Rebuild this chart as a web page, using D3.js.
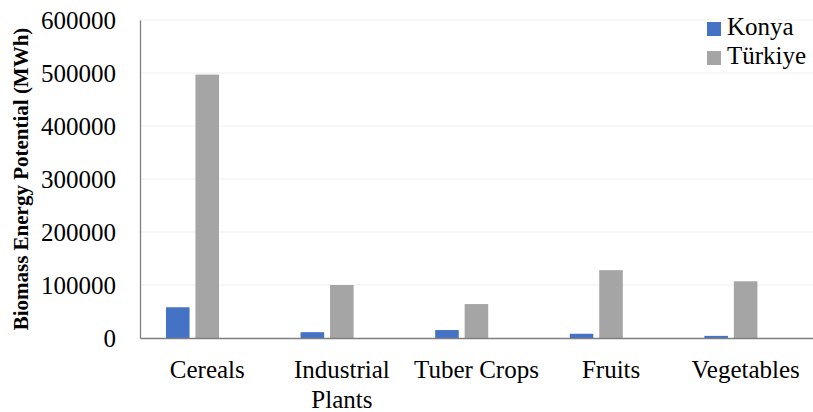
<!DOCTYPE html>
<html>
<head>
<meta charset="utf-8">
<script src="https://cdn.jsdelivr.net/npm/d3@7"></script>
<style>
  html, body { margin: 0; padding: 0; background: #fff; }
  svg { display: block; }
</style>
</head>
<body>
<svg id="chart" width="813" height="412"></svg>
<script>
const categories = ["Cereals", "Industrial\nPlants", "Tuber Crops", "Fruits", "Vegetables"];
const seriesNames = ["Konya", "Türkiye"];
const konya = [58000, 11000, 15000, 8000, 4000];
const turkiye = [497000, 100000, 64000, 128000, 107000];
const yTicks = [0, 100000, 200000, 300000, 400000, 500000, 600000];
const colors = ["#4472C4", "#A5A5A5"];

const svg = d3.select("#chart");
const W = 813, H = 412;
const m = { left: 140, right: 0, top: 20, bottom: 74 };
const plotW = W - m.left - m.right, plotH = H - m.top - m.bottom;
const g = svg.append("g").attr("transform", `translate(${m.left},${m.top})`);
const serif = "'Liberation Serif', 'Times New Roman', serif";

const x0 = d3.scaleBand().domain(categories).range([0, plotW]).padding(0);
const bw0 = x0.bandwidth();
const x1 = d3.scaleBand().domain(seriesNames)
  .range([bw0 * 0.193, bw0 * 0.587]).paddingInner(0.2).paddingOuter(0);
const y = d3.scaleLinear().domain([0, 600000]).range([plotH, 0]);

// gridlines
g.append("g").selectAll("line").data(yTicks.filter(t => t > 0)).join("line")
  .attr("x1", 0).attr("x2", plotW)
  .attr("y1", d => y(d)).attr("y2", d => y(d))
  .attr("stroke", "#EFEFEF").attr("stroke-width", 1);

// bars
const data = categories.map((c, i) => ({ cat: c, vals: [konya[i], turkiye[i]] }));
const grp = g.append("g").selectAll("g").data(data).join("g")
  .attr("transform", d => `translate(${x0(d.cat)},0)`);
grp.selectAll("rect").data(d => d.vals.map((v, k) => ({ key: seriesNames[k], v, k })))
  .join("rect")
  .attr("x", d => x1(d.key)).attr("width", x1.bandwidth())
  .attr("y", d => y(d.v)).attr("height", d => plotH - y(d.v))
  .attr("fill", d => colors[d.k]);

// y axis
const yAxis = d3.axisLeft(y).tickValues(yTicks).tickSize(0).tickPadding(24).tickFormat(d3.format("d"));
const ya = g.append("g").call(yAxis).attr("font-family", serif);
ya.select(".domain").attr("stroke", "#7F7F7F").attr("stroke-width", 1.3);
ya.selectAll("text").attr("font-family", serif)
  .attr("font-size", 25).attr("fill", "#000");

// x axis
const xAxis = d3.axisBottom(x0).tickSize(0).tickPadding(0).tickFormat("");
const xa = g.append("g").attr("transform", `translate(0,${plotH})`).call(xAxis).attr("font-family", serif);
xa.select(".domain").attr("stroke", "#7F7F7F").attr("stroke-width", 1.5);
xa.selectAll(".tick").each(function(d) {
  const lines = d.split("\n");
  const t = d3.select(this).append("text")
    .attr("font-family", serif)
    .attr("font-size", 25).attr("fill", "#000").attr("text-anchor", "middle");
  lines.forEach((ln, i) => t.append("tspan").attr("x", 0).attr("y", 40 + i * 30).text(ln));
});

// y title
svg.append("text")
  .attr("transform", `translate(28,${m.top + plotH / 2}) rotate(-90)`)
  .attr("text-anchor", "middle")
  .attr("font-family", serif)
  .attr("font-weight", "bold").attr("font-size", 21).attr("fill", "#000")
  .text("Biomass Energy Potential (MWh)");

// legend
const lg = svg.append("g").attr("transform", "translate(707,22)");
seriesNames.forEach((s, i) => {
  const r = lg.append("g").attr("transform", `translate(0,${i * 29})`);
  r.append("rect").attr("width", 14).attr("height", 14).attr("fill", colors[i]);
  r.append("text").attr("x", 20).attr("y", 13)
    .attr("font-family", serif)
    .attr("font-size", 25).attr("fill", "#000").text(s);
});
</script>
</body>
</html>
